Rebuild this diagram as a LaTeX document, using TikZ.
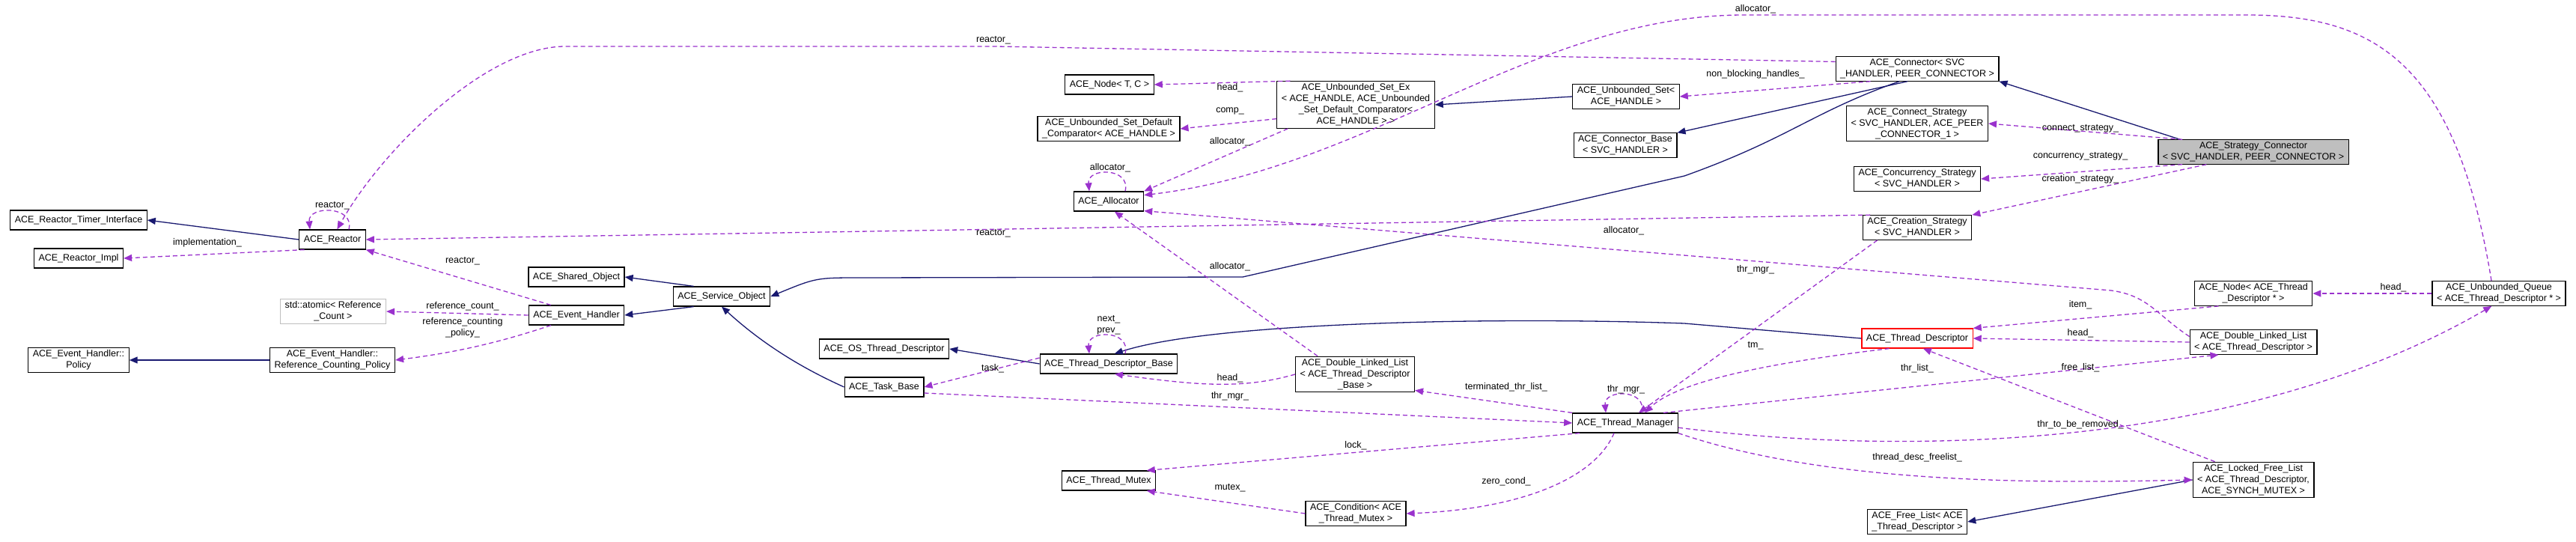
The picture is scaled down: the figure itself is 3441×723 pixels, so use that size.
\documentclass[tikz,border=0pt]{standalone}
\usepackage{fontspec}
\setmainfont{Liberation Sans}
\usetikzlibrary{arrows.meta}
\definecolor{inhcol}{HTML}{191970}
\definecolor{usecol}{HTML}{9A32CD}
\tikzset{
  cls/.style={draw=black,line width=1.2pt,fill=white,align=center,inner xsep=6pt,inner ysep=3pt,minimum height=26pt,font=\fontsize{12.5}{15}\selectfont},
  lbl/.style={inner sep=1pt,align=center,font=\fontsize{12.5}{15}\selectfont},
  inh/.style={draw=inhcol,line width=1.3pt,-{Triangle[length=11pt,width=9pt]}},
  use/.style={draw=usecol,line width=1.3pt,dash pattern=on 6pt off 4pt,-{Triangle[length=11pt,width=9pt]}}
}
\begin{document}
\begin{tikzpicture}[x=1pt,y=-1pt]
\useasboundingbox (0,0) rectangle (3441,723);

% classes, left part
\node[cls] (timer) at (105,294) {ACE\_Reactor\_Timer\_Interface};
\node[cls] (impl) at (105,345) {ACE\_Reactor\_Impl};
\node[cls] (reactor) at (444,320) {ACE\_Reactor};
\node[cls,draw=gray!50] (atomic) at (445,416) {std::atomic< Reference\\\_Count >};
\node[cls] (policy) at (105,481) {ACE\_Event\_Handler::\\Policy};
\node[cls] (rcpolicy) at (444,481) {ACE\_Event\_Handler::\\Reference\_Counting\_Policy};
\node[cls] (shared) at (770,370) {ACE\_Shared\_Object};
\node[cls] (evh) at (770,421) {ACE\_Event\_Handler};
\node[cls] (svcobj) at (964,396) {ACE\_Service\_Object};

% classes, middle part
\node[cls] (nodetc) at (1482,113) {ACE\_Node< T, C >};
\node[cls] (defcomp) at (1481,172) {ACE\_Unbounded\_Set\_Default\\\_Comparator< ACE\_HANDLE >};
\node[cls] (usetex) at (1811,140) {ACE\_Unbounded\_Set\_Ex\\< ACE\_HANDLE, ACE\_Unbounded\\\_Set\_Default\_Comparator<\\ACE\_HANDLE > >};
\node[cls] (uset) at (2172,129) {ACE\_Unbounded\_Set<\\ACE\_HANDLE >};
\node[cls] (connbase) at (2171,194) {ACE\_Connector\_Base\\< SVC\_HANDLER >};
\node[cls] (alloc) at (1481,269) {ACE\_Allocator};
\node[cls] (osdesc) at (1181,466) {ACE\_OS\_Thread\_Descriptor};
\node[cls] (taskb) at (1181,517) {ACE\_Task\_Base};
\node[cls] (tdbase) at (1481,486) {ACE\_Thread\_Descriptor\_Base};
\node[cls] (dlltdb) at (1810,500) {ACE\_Double\_Linked\_List\\< ACE\_Thread\_Descriptor\\\_Base >};
\node[cls] (thrmgr) at (2171,565) {ACE\_Thread\_Manager};
\node[cls] (mutex) at (1481,642) {ACE\_Thread\_Mutex};
\node[cls] (cond) at (1811,686) {ACE\_Condition< ACE\\\_Thread\_Mutex >};

% classes, right part
\node[cls] (conn) at (2561,92) {ACE\_Connector< SVC\\\_HANDLER, PEER\_CONNECTOR >};
\node[cls] (connstr) at (2561,165) {ACE\_Connect\_Strategy\\< SVC\_HANDLER, ACE\_PEER\\\_CONNECTOR\_1 >};
\node[cls,fill=gray!50] (stratconn) at (3010,203) {ACE\_Strategy\_Connector\\< SVC\_HANDLER, PEER\_CONNECTOR >};
\node[cls] (concstr) at (2561,239) {ACE\_Concurrency\_Strategy\\< SVC\_HANDLER >};
\node[cls] (creastr) at (2561,304) {ACE\_Creation\_Strategy\\< SVC\_HANDLER >};
\node[cls] (nodetd) at (3010,392) {ACE\_Node< ACE\_Thread\\\_Descriptor * >};
\node[cls] (uqueue) at (3338,392) {ACE\_Unbounded\_Queue\\< ACE\_Thread\_Descriptor * >};
\node[cls,draw=red] (tdesc) at (2561,452) {ACE\_Thread\_Descriptor};
\node[cls] (dlltd) at (3010,457) {ACE\_Double\_Linked\_List\\< ACE\_Thread\_Descriptor >};
\node[cls] (lfl) at (3010,641) {ACE\_Locked\_Free\_List\\< ACE\_Thread\_Descriptor,\\ACE\_SYNCH\_MUTEX >};
\node[cls] (freel) at (2561,697) {ACE\_Free\_List< ACE\\\_Thread\_Descriptor >};

% inheritance
\draw[inh] (reactor.west) -- (timer.east);
\draw[inh] (rcpolicy.west) -- (policy.east);
\draw[inh] (svcobj.160) -- (shared.east);
\draw[inh] (svcobj.200) -- (evh.east);
\draw[inh] (taskb.west) .. controls (1090,500) and (1030,470) .. (svcobj.south);
\draw[inh] (conn.215) .. controls (2420,150) and (2390,185) .. (2250,235)
  -- (1660,370) -- (1150,371) .. controls (1090,371) .. (svcobj.east);
\draw[inh] (uset.west) -- (usetex.east);
\draw[inh] (conn.232) -- (connbase.north east);
\draw[inh] (stratconn.north west) ++(30,0) -- (conn.south east);
\draw[inh] (tdbase.west) -- (osdesc.east);
\draw[inh] (tdesc.west) -- (2250,432) .. controls (2000,423) and (1620,430) .. (tdbase.60);
\draw[inh] (lfl.west) -- (freel.east);

% members
\draw[use] (conn.175) -- (1330,62) -- (755,62) .. controls (650,62) and (510,200) .. (reactor.65);
\draw[use] ([xshift=22pt]reactor.north) .. controls +(8,-32) and +(-3,-32) .. ([xshift=-30pt]reactor.north);
\draw[use] (reactor.200) -- (impl.east);
\draw[use] (creastr.165) -- (reactor.east);
\draw[use] (evh.north west) ++(30,0) -- (reactor.south east);
\draw[use] (evh.west) -- (atomic.east);
\draw[use] (evh.south west) ++(30,0) .. controls (660,460) and (600,472) .. (rcpolicy.east);
\draw[use] (usetex.160) -- (nodetc.east);
\draw[use] (usetex.190) -- (defcomp.east);
\draw[use] (usetex.south west) ++(15,0) -- (alloc.north east);
\draw[use] ([xshift=22pt]alloc.north) .. controls +(8,-32) and +(-3,-32) .. ([xshift=-26pt]alloc.north);
\draw[use] (uqueue.north) ++(-10,0) .. controls (3280,80) and (3170,20) .. (3000,20)
  -- (2330,20) .. controls (2050,20) and (1830,225) .. (alloc.10);
\draw[use] (dlltd.175) .. controls (2880,420) and (2870,395) .. (2820,388) -- (alloc.345);
\draw[use] (dlltdb.north) ++(-50,0) -- (alloc.300);
\draw[use] (conn.195) -- (uset.east);
\draw[use] (stratconn.170) -- (connstr.east);
\draw[use] (stratconn.190) -- (concstr.east);
\draw[use] (stratconn.south west) ++(65,0) -- (creastr.north east);
\draw[use] ([xshift=22pt]tdbase.north) .. controls +(8,-32) and +(-3,-32) .. ([xshift=-26pt]tdbase.north);
\draw[use] (tdbase.west) ++(0,-8) -- (taskb.east);
\draw[use] (dlltdb.west) .. controls (1660,520) and (1600,515) .. (tdbase.300);
\draw[use] (taskb.east) ++(0,8) -- (thrmgr.west);
\draw[use] (thrmgr.north west) -- (dlltdb.345);
\draw[use] ([xshift=22pt]thrmgr.north) .. controls +(8,-32) and +(-3,-32) .. ([xshift=-26pt]thrmgr.north);
\draw[use] (creastr.south west) ++(20,0) -- ([xshift=18pt]thrmgr.north);
\draw[use] (tdesc.200) .. controls (2360,485) and (2240,510) .. ([xshift=26pt]thrmgr.north);
\draw[use] (thrmgr.south west) ++(10,0) -- (mutex.15);
\draw[use] (thrmgr.south) ++(-15,0) .. controls (2130,640) and (2030,680) .. (cond.east);
\draw[use] (cond.west) -- (mutex.345);
\draw[use] (thrmgr.15) -- (dlltd.200);
\draw[use] (thrmgr.355) .. controls (2550,610) and (3000,600) .. (uqueue.240);
\draw[use] (thrmgr.south east) .. controls (2450,650) and (2750,645) .. (lfl.west);
\draw[use] (nodetd.200) -- (tdesc.north east);
\draw[use] (dlltd.west) -- (tdesc.east);
\draw[use] (lfl.north west) ++(30,0) -- (tdesc.300);
\draw[use] (uqueue.west) -- (nodetd.east);

% member names
\node[lbl] (l1) at (1327,54) {reactor\_};
\node[lbl] (l2) at (444,275) {reactor\_};
\node[lbl] (l3) at (277,324) {implementation\_};
\node[lbl] (l4) at (1327,312) {reactor\_};
\node[lbl] (l5) at (618,349) {reactor\_};
\node[lbl] (l6) at (618,409) {reference\_count\_};
\node[lbl] (l7) at (618,438) {reference\_counting\\\_policy\_};
\node[lbl] (l8) at (1643,117) {head\_};
\node[lbl] (l9) at (1643,148) {comp\_};
\node[lbl] (l10) at (1643,189) {allocator\_};
\node[lbl] (l11) at (1483,224) {allocator\_};
\node[lbl] (l12) at (2345,12) {allocator\_};
\node[lbl] (l13) at (2169,308) {allocator\_};
\node[lbl] (l14) at (1643,356) {allocator\_};
\node[lbl] (l15) at (2345,99) {non\_blocking\_handles\_};
\node[lbl] (l16) at (2779,172) {connect\_strategy\_};
\node[lbl] (l17) at (2779,209) {concurrency\_strategy\_};
\node[lbl] (l18) at (2779,239) {creation\_strategy\_};
\node[lbl] (l19) at (1481,434) {next\_\\prev\_};
\node[lbl] (l20) at (1326,492) {task\_};
\node[lbl] (l21) at (1643,505) {head\_};
\node[lbl] (l22) at (1643,529) {thr\_mgr\_};
\node[lbl] (l23) at (2012,517) {terminated\_thr\_list\_};
\node[lbl] (l24) at (2172,520) {thr\_mgr\_};
\node[lbl] (l25) at (2345,360) {thr\_mgr\_};
\node[lbl] (l26) at (2345,462) {tm\_};
\node[lbl] (l27) at (1811,595) {lock\_};
\node[lbl] (l28) at (2012,643) {zero\_cond\_};
\node[lbl] (l29) at (1643,652) {mutex\_};
\node[lbl] (l30) at (2561,492) {thr\_list\_};
\node[lbl] (l31) at (2779,567) {thr\_to\_be\_removed\_};
\node[lbl] (l32) at (2561,611) {thread\_desc\_freelist\_};
\node[lbl] (l33) at (2779,407) {item\_};
\node[lbl] (l34) at (2779,445) {head\_};
\node[lbl] (l35) at (2779,491) {free\_list\_};
\node[lbl] (l36) at (3197,384) {head\_};
\end{tikzpicture}
\end{document}
